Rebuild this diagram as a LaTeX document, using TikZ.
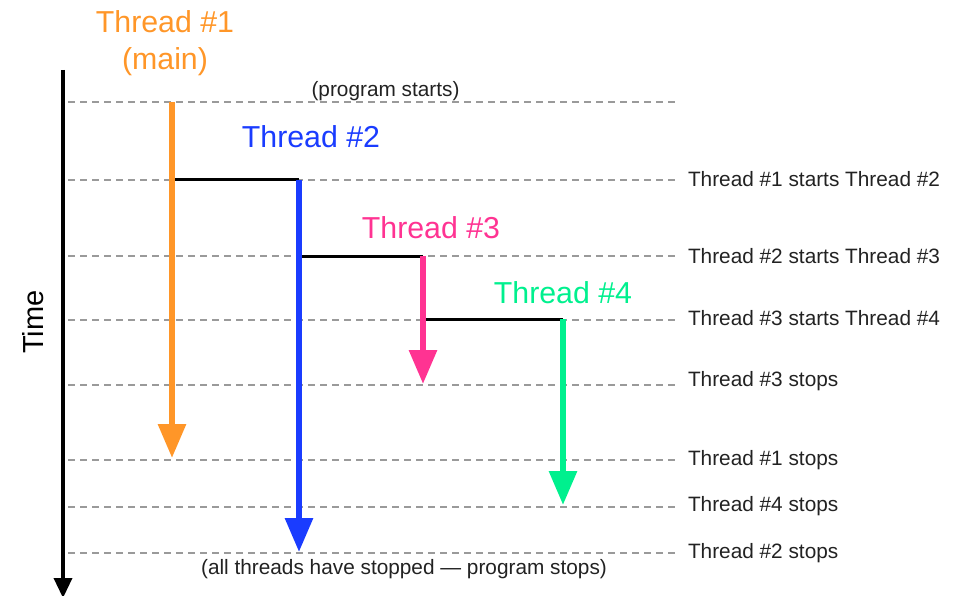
\documentclass[tikz,border=0pt]{standalone}
\usepackage{fontspec}
\setmainfont{Liberation Sans}
\usetikzlibrary{arrows.meta}
\definecolor{ink}{HTML}{222222}
\definecolor{gridgray}{HTML}{9A9A9A}
\definecolor{thrA}{HTML}{FF9628}
\definecolor{thrB}{HTML}{1A3CFF}
\definecolor{thrC}{HTML}{FF3392}
\definecolor{thrD}{HTML}{00F08E}
\begin{document}
\begin{tikzpicture}[x=1pt,y=-1pt,
  every node/.style={inner sep=0pt, outer sep=0pt},
  gridline/.style={draw=gridgray, line width=1.3pt, dash pattern=on 7pt off 5pt},
  event/.style={anchor=base west, text=ink, font=\fontsize{20.8}{24}\selectfont},
  note/.style={anchor=base, text=ink, font=\fontsize{20.8}{24}\selectfont},
  title/.style={anchor=base, font=\fontsize{30.3}{34}\selectfont},
  lifeline/.style={line width=6pt, -{Triangle[width=27pt,length=34pt]}},
  spawn/.style={line width=3pt, black},
]
\useasboundingbox (0,0) rectangle (961,596);

% time axis
\coordinate (axtop) at (63,70);
\coordinate (axend) at (63,598);
\draw[line width=3.5pt, black, -{Triangle[width=18pt,length=20pt]}] (axtop) -- (axend);
\node[rotate=90, anchor=base, text=black, font=\fontsize{29}{32}\selectfont] (time) at (43,322) {Time};

% dashed time marks
\foreach \i/\y in {1/102, 2/180, 3/256, 4/320, 5/385, 6/460, 7/507, 8/553}{
  \coordinate (gl\i) at (68,\y);
  \coordinate (gr\i) at (675,\y);
  \draw[gridline] (gl\i) -- (gr\i);
}

% thread start and end points
\coordinate (s1) at (172,102);
\coordinate (e1) at (172,458);
\coordinate (j1) at (172,180);
\coordinate (s2) at (299,180);
\coordinate (e2) at (299,552);
\coordinate (j2) at (299,256);
\coordinate (s3) at (423,256);
\coordinate (e3) at (423,384);
\coordinate (j3) at (423,319);
\coordinate (s4) at (563,319);
\coordinate (e4) at (563,505);

% spawn links
\draw[spawn] (j1) -- (s2);
\draw[spawn] (j2) -- (s3);
\draw[spawn] (j3) -- (s4);

% thread lifelines
\draw[lifeline, thrA] (s1) -- (e1);
\draw[lifeline, thrB] (s2) -- (e2);
\draw[lifeline, thrC] (s3) -- (e3);
\draw[lifeline, thrD] (s4) -- (e4);

% thread titles
\node[title, text=thrA] (n1) at (165,33) {Thread \#1};
\node[title, text=thrA] (n1b) at (165,70) {(main)};
\node[title, text=thrB] (n2) at (311,148) {Thread \#2};
\node[title, text=thrC] (n3) at (431,238) {Thread \#3};
\node[title, text=thrD] (n4) at (563,303) {Thread \#4};

% notes
\node[note] (start) at (385.5,97) {(program starts)};
\node[note] (stop) at (404,574) {(all threads have stopped --- program stops)};

% events
\node[event] (ev1) at (688,187) {Thread \#1 starts Thread \#2};
\node[event] (ev2) at (688,263) {Thread \#2 starts Thread \#3};
\node[event] (ev3) at (688,325) {Thread \#3 starts Thread \#4};
\node[event] (ev4) at (688,386) {Thread \#3 stops};
\node[event] (ev5) at (688,465) {Thread \#1 stops};
\node[event] (ev6) at (688,511) {Thread \#4 stops};
\node[event] (ev7) at (688,558) {Thread \#2 stops};
\end{tikzpicture}
\end{document}
